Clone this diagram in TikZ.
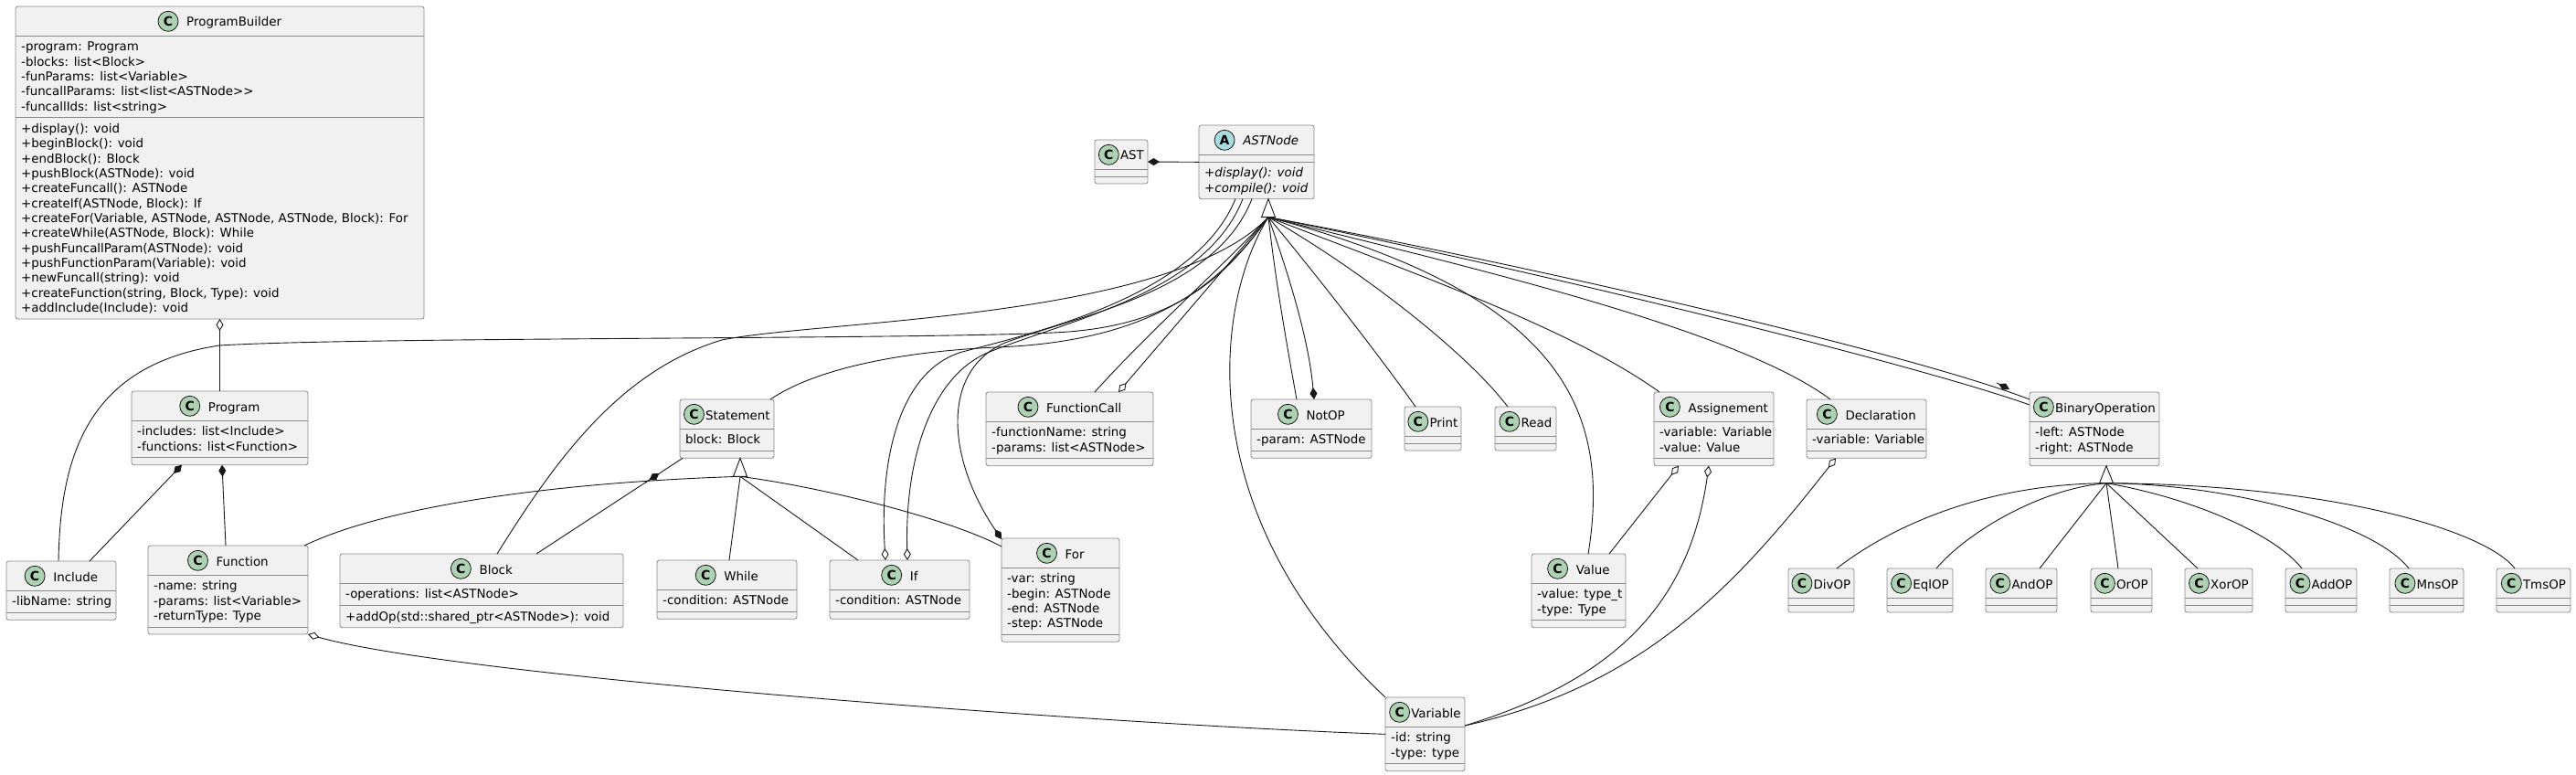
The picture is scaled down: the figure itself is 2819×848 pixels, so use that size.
\documentclass[tikz,border=0pt]{standalone}
\usepackage{fontspec}
\setmainfont{DejaVu Sans}
\usetikzlibrary{arrows.meta,calc}
\definecolor{boxfill}{HTML}{F1F1F1}
\definecolor{boxline}{HTML}{8A8A8A}
\definecolor{lc}{HTML}{181818}
\definecolor{colC}{HTML}{ADD1B2}
\definecolor{colA}{HTML}{A9DCDF}
\newlength\tw
\font\clsprim="DejaVu Sans" at 13.4pt
\newcommand\clsfont{\fontsize{13.4}{16.33}\selectfont}
\tikzset{
  clsbox/.style={draw=boxline, fill=boxfill, rounded corners=2.5pt, line width=0.8pt, inner sep=0pt, outer sep=0pt},
  sepl/.style={draw=boxline, line width=0.8pt},
  lettercirc/.style={circle, draw=lc, line width=0.8pt, minimum size=22pt, inner sep=0pt, font=\fontsize{14}{14}\selectfont\bfseries, text=black},
  txt/.style={anchor=base west, inner sep=0pt, font=\clsfont, text=black},
  conn/.style={draw=lc, line width=0.9pt},
  comp/.style={conn, -{Diamond[length=13pt,width=8pt]}},
  agg/.style={conn, -{Diamond[fill=white,length=13pt,width=8pt]}},
  gentri/.style={draw=lc, fill=white, line width=0.9pt, line join=miter}
}
% #1 id, #2 x, #3 y, #4 width, #5 attr lines, #6 method lines, #7 letter, #8 title
\newcommand\cls[8]{%
  \pgfmathsetmacro\hA{#5*16.33+8}%
  \pgfmathsetmacro\hM{#6*16.33+8}%
  \pgfmathsetmacro\hT{32+\hA+\hM}%
  \node[clsbox, minimum width=#4pt, minimum height=\hT pt, anchor=north west] (#1) at (#2,#3) {};%
  \draw[sepl] (#2,#3+32) -- ++(#4,0);%
  \draw[sepl] (#2,#3+32+\hA) -- ++(#4,0);%
  \coordinate (#1-a) at (#2+6,#3+32);%
  \coordinate (#1-m) at (#2+6,#3+32+\hA);%
  \settowidth\tw{\clsprim\let\itshape\relax #8}%
  \pgfmathsetmacro\gp{max(1.5,min(9,#4-34-\tw))}%
  \pgfmathsetmacro\gl{#2+(#4-22-\gp-\tw)/2}%
  \node[lettercirc, fill=col#7] (#1-c) at (\gl+11,#3+16.3) {#7};%
  \node[txt] (#1-t) at (\gl+22+\gp,#3+22) {#8};%
}
\newcommand\lines[2]{\foreach \t [count=\i] in {#2} {\node[txt] at ([yshift={-(16.8+(\i-1)*16.33)*1pt}]#1) {\t};}}
\begin{document}
\begin{tikzpicture}[x=1pt,y=-1pt]
\fill[white] (0,0) rectangle (2819,848);
\useasboundingbox (0,0) rectangle (2819,848);

% ---------- classes ----------
\cls{ProgramBuilder}{17}{7}{447}{5}{13}{C}{ProgramBuilder}
\lines{ProgramBuilder-a}{{-program: Program},{-blocks: list<Block>},{-funParams: list<Variable>},{-funcallParams: list<list<ASTNode>{}>},{-funcallIds: list<string>}}
\lines{ProgramBuilder-m}{{+display(): void},{+beginBlock(): void},{+endBlock(): Block},{+pushBlock(ASTNode): void},{+createFuncall(): ASTNode},{+createIf(ASTNode, Block): If},{+createFor(Variable, ASTNode, ASTNode, ASTNode, Block): For},{+createWhile(ASTNode, Block): While},{+pushFuncallParam(ASTNode): void},{+pushFunctionParam(Variable): void},{+newFuncall(string): void},{+createFunction(string, Block, Type): void},{+addInclude(Include): void}}

\cls{AST}{1198}{153}{58}{0}{0}{C}{AST}
\cls{ASTNode}{1312}{137}{126}{0}{2}{A}{\itshape ASTNode}
\lines{ASTNode-m}{{\itshape +display(): void},{\itshape +compile(): void}}

\cls{Program}{144}{428}{193}{2}{0}{C}{Program}
\lines{Program-a}{{-includes: list<Include>},{-functions: list<Function>}}
\cls{Include}{7}{614}{120}{1}{0}{C}{Include}
\lines{Include-a}{{-libName: string}}
\cls{Function}{162}{597}{175}{3}{0}{C}{Function}
\lines{Function-a}{{-name: string},{-params: list<Variable>},{-returnType: Type}}
\cls{Block}{372}{606}{310}{1}{1}{C}{Block}
\lines{Block-a}{{-operations: list<ASTNode>}}
\lines{Block-m}{{+addOp(std::shared\_ptr<ASTNode>): void}}
\cls{Statement}{744}{437}{103}{1}{0}{C}{Statement}
\lines{Statement-a}{{block: Block}}
\cls{While}{719}{613}{153}{1}{0}{C}{While}
\lines{While-a}{{-condition: ASTNode}}
\cls{If}{908}{613}{153}{1}{0}{C}{If}
\lines{If-a}{{-condition: ASTNode}}
\cls{For}{1096}{589}{129}{4}{0}{C}{For}
\lines{For-a}{{-var: string},{-begin: ASTNode},{-end: ASTNode},{-step: ASTNode}}
\cls{FunctionCall}{1079}{429}{183}{2}{0}{C}{FunctionCall}
\lines{FunctionCall-a}{{-functionName: string},{-params: list<ASTNode>}}
\cls{NotOP}{1369}{437}{132}{1}{0}{C}{NotOP}
\lines{NotOP-a}{{-param: ASTNode}}
\cls{Print}{1537}{445}{62}{0}{0}{C}{Print}
\cls{Read}{1636}{445}{67}{0}{0}{C}{Read}
\cls{Value}{1676}{606}{103}{2}{0}{C}{Value}
\lines{Value-a}{{-value: type\_t},{-type: Type}}
\cls{Variable}{1516}{763}{87}{2}{0}{C}{Variable}
\lines{Variable-a}{{-id: string},{-type: type}}
\cls{Assignement}{1810}{429}{131}{2}{0}{C}{Assignement}
\lines{Assignement-a}{{-variable: Variable},{-value: Value}}
\cls{Declaration}{1977}{437}{131}{1}{0}{C}{Declaration}
\lines{Declaration-a}{{-variable: Variable}}
\cls{BinaryOperation}{2221}{429}{142}{2}{0}{C}{BinaryOperation}
\lines{BinaryOperation-a}{{-left: ASTNode},{-right: ASTNode}}
\cls{DivOP}{1957}{622}{72}{0}{0}{C}{DivOP}
\cls{EqlOP}{2065}{622}{72}{0}{0}{C}{EqlOP}
\cls{AndOP}{2173}{622}{78}{0}{0}{C}{AndOP}
\cls{OrOP}{2288}{622}{67}{0}{0}{C}{OrOP}
\cls{XorOP}{2391}{622}{74}{0}{0}{C}{XorOP}
\cls{AddOP}{2501}{622}{78}{0}{0}{C}{AddOP}
\cls{MnsOP}{2615}{622}{81}{0}{0}{C}{MnsOP}
\cls{TmsOP}{2732}{622}{81}{0}{0}{C}{TmsOP}

% ---------- key points ----------
\coordinate (astT) at ([xshift=76pt]ASTNode.south west);
\coordinate (astC) at ([yshift=-20pt]astT);
\coordinate (stT) at ([xshift=66pt]Statement.south west);
\coordinate (stC) at ([yshift=-20pt]stT);
\coordinate (boT) at ([xshift=84pt]BinaryOperation.south west);
\coordinate (boC) at ([yshift=-19pt]boT);
\coordinate (varR) at ([yshift=-31pt]Variable.north east);
\coordinate (blkS) at ([xshift=215pt]Block.north west);
\coordinate (stB) at ([xshift=3pt]Statement.south west);
\coordinate (boL) at ([yshift=-8pt]BinaryOperation.north west);

% ---------- ASTNode generalizations ----------
\draw[conn] ([xshift=57pt]Include.north west) .. controls (66,500) and (95,400) .. (240,378) .. controls (400,368) and (1100,372) .. (1180,362) .. controls (1300,350) and (1350,290) .. (astC);
\draw[conn] ([xshift=172pt]Block.north west) .. controls (610,500) and (680,405) .. (790,372) .. controls (900,350) and (1280,350) .. (astC);
\draw[conn] ([xshift=99pt]Statement.north west) .. controls (890,405) and (980,385) .. (1090,380) .. controls (1250,374) and (1330,320) .. (astC);
\draw[conn] ([xshift=119pt]FunctionCall.north west) .. controls (1260,360) and (1340,290) .. (astC);
\draw[conn] ([xshift=50pt]NotOP.north west) .. controls (1405,360) and (1395,300) .. (astC);
\draw[conn] ([xshift=12pt]Print.north west) .. controls (1510,390) and (1440,300) .. (astC);
\draw[conn] ([xshift=14pt]Read.north west) .. controls (1600,380) and (1480,290) .. (astC);
\draw[conn] ([xshift=62pt]Value.north west) .. controls (1765,440) and (1700,320) .. (astC);
\draw[conn] ([xshift=6pt]Assignement.north west) .. controls (1720,360) and (1550,300) .. (astC);
\draw[conn] ([xshift=26pt]Declaration.north west) .. controls (1900,360) and (1600,290) .. (astC);
\draw[conn] ([yshift=-14pt]BinaryOperation.north west) .. controls (2100,400) and (1700,300) .. (astC);
\draw[conn] (Variable.north west) .. controls (1300,560) and (1330,330) .. (astC);
\draw[gentri] (astT) -- ([xshift=-7.5pt]astC) -- ([xshift=7.5pt]astC) -- cycle;

% ---------- associations with ASTNode ----------
\draw[comp] (ASTNode.west) -- (AST.east);
\draw[agg] (astC) -- ([xshift=145pt]FunctionCall.north west);
\draw[comp] (astC) .. controls (1410,300) and (1432,370) .. ([xshift=69pt]NotOP.north west);
\draw[conn] (astC) .. controls (1700,295) and (2100,390) .. (boL);
\draw[comp] ($(boL)+(-36,-18)$) -- ($(boL)+(-22,-11)$);
\draw[agg] ([xshift=40pt]ASTNode.south west) .. controls (1310,320) and (1150,360) .. (1053,385) .. controls (985,405) and (962,500) .. ([xshift=61pt]If.north west);
\draw[agg] ([xshift=48pt]ASTNode.south west) .. controls (1320,320) and (1170,350) .. (1083,385) .. controls (1020,410) and (990,500) .. ([xshift=85pt]If.north west);
\draw[comp] ([xshift=58pt]ASTNode.south west) .. controls (1330,320) and (1180,345) .. (1100,375) .. controls (1030,405) and (1035,500) .. ([yshift=-1pt]For.north west);

% ---------- Statement ----------
\draw[conn] ([xshift=171pt]Function.north west) .. controls (420,555) and (600,528) .. (stC);
\draw[conn] ([xshift=79pt]While.north west) -- (stC);
\draw[conn] ([xshift=31pt]If.north west) -- (stC);
\draw[conn] ([yshift=-9pt]For.north west) .. controls (1040,568) and (900,533) .. (stC);
\draw[gentri] (stT) -- ([xshift=-7.5pt]stC) -- ([xshift=7.5pt]stC) -- cycle;
\draw[conn] (blkS) -- (stB);
\draw[comp] ($(blkS)!0.74!(stB)$) -- ($(blkS)!0.84!(stB)$);

% ---------- Program ----------
\draw[agg] (Program.north) -- (ProgramBuilder.south);
\draw[comp] ([xshift=91pt]Include.north west) -- ([xshift=55pt]Program.south west);
\draw[comp] ([xshift=85pt]Function.north west) -- ([xshift=99pt]Program.south west);
\draw[agg] (Variable.west) .. controls (1200,792) and (500,740) .. (Function.south east);

% ---------- Assignement / Declaration ----------
\draw[agg] ([xshift=85pt]Value.north west) -- ([xshift=27pt]Assignement.south west);
\draw[agg] (varR) .. controls (1780,740) and (1850,650) .. ([xshift=60pt]Assignement.south west);
\draw[agg] (varR) .. controls (1800,750) and (1900,640) .. ([xshift=32pt]Declaration.south west);

% ---------- BinaryOperation ----------
\draw[conn] ([xshift=53pt]DivOP.north west) .. controls (2060,583) and (2160,530) .. (boC);
\draw[conn] ([xshift=54pt]EqlOP.north west) .. controls (2150,585) and (2230,535) .. (boC);
\draw[conn] ([xshift=59pt]AndOP.north west) -- (boC);
\draw[conn] ([xshift=30pt]OrOP.north west) -- (boC);
\draw[conn] ([xshift=14pt]XorOP.north west) -- (boC);
\draw[conn] ([xshift=18pt]AddOP.north west) .. controls (2490,585) and (2400,545) .. (boC);
\draw[conn] ([xshift=21pt]MnsOP.north west) .. controls (2600,575) and (2450,530) .. (boC);
\draw[conn] ([xshift=20pt]TmsOP.north west) .. controls (2720,580) and (2550,530) .. (boC);
\draw[gentri] (boT) -- ([xshift=-7.5pt]boC) -- ([xshift=7.5pt]boC) -- cycle;
\end{tikzpicture}
\end{document}
